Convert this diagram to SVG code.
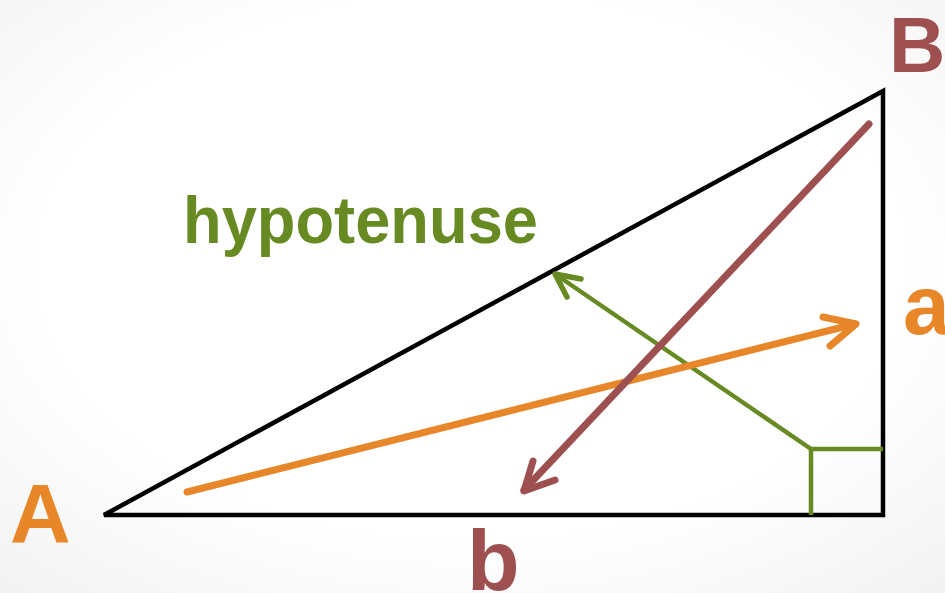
<svg xmlns="http://www.w3.org/2000/svg" width="945" height="593" viewBox="0 0 945 593">
<defs>
<radialGradient id="bg" cx="0.5" cy="0.45" r="0.75">
<stop offset="0.6" stop-color="#ffffff"/>
<stop offset="1" stop-color="#f2f2f2"/>
</radialGradient>
</defs>
<style>
.lbl{font-family:"Liberation Sans",Arial,sans-serif;font-weight:bold}
.or{fill:#E8862A}.br{fill:#9E4F50}.gr{fill:#678A22}
.arr{fill:none;stroke-linecap:round;stroke-linejoin:round}
</style>
<rect width="945" height="593" fill="url(#bg)"/>
<g id="triangle">
<polygon points="104,515 883,91 883,515" fill="none" stroke="#000" stroke-width="4.5" stroke-linejoin="miter"/>
</g>
<g id="right-angle">
<polyline points="811,515 811,449 883,449" fill="none" stroke="#678A22" stroke-width="4.5"/>
</g>
<g id="connectors">
<g id="green-arrow" stroke="#678A22">
<line x1="811" y1="449" x2="555" y2="274" stroke-width="4.5" stroke-linecap="butt"/>
<polyline class="arr" points="581,279 555,274 567,297" stroke-width="5.5"/>
</g>
<g id="orange-arrow" stroke="#E8862A">
<line x1="187" y1="492" x2="855" y2="324" stroke-width="7" stroke-linecap="round"/>
<polyline class="arr" points="823,317 856,324 830,346" stroke-width="7"/>
</g>
<g id="brown-arrow" stroke="#9E4F50">
<line x1="869" y1="124" x2="524" y2="490" stroke-width="7" stroke-linecap="round"/>
<polyline class="arr" points="533,461 524,491 555,480" stroke-width="7"/>
</g>
</g>
<g id="label-A"><text class="lbl or" x="10" y="543" font-size="84">A</text></g>
<g id="label-B"><text class="lbl br" x="889" y="72" font-size="78">B</text></g>
<g id="label-a"><text class="lbl or" x="903" y="334" font-size="84">a</text></g>
<g id="label-b"><text class="lbl br" x="467" y="590" font-size="86">b</text></g>
<g id="label-hyp"><text class="lbl gr" x="183" y="243" font-size="66" textLength="355" lengthAdjust="spacingAndGlyphs">hypotenuse</text></g>
</svg>
